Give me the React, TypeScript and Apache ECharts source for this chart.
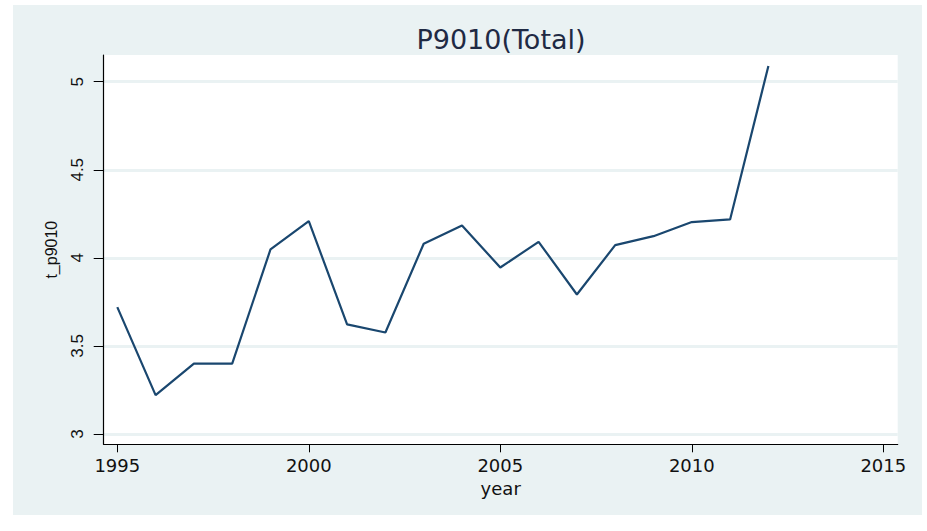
import React, { useEffect, useRef } from "react";
import * as echarts from "echarts";

const years = [1995, 1996, 1997, 1998, 1999, 2000, 2001, 2002, 2003, 2004, 2005, 2006, 2007, 2008, 2009, 2010, 2011, 2012];
const p9010 = [3.72, 3.221, 3.40, 3.40, 4.048, 4.209, 3.622, 3.576, 4.080, 4.184, 3.945, 4.091, 3.792, 4.072, 4.123, 4.203, 4.218, 5.089];
const xTicks = [1995, 2000, 2005, 2010, 2015];
const yTicks = [3, 3.5, 4, 4.5, 5];

export default function App() {
  const ref = useRef<HTMLDivElement>(null);
  useEffect(() => {
    if (!ref.current) return;
    const chart = echarts.init(ref.current, undefined, { renderer: "svg" });
    const data = years.map((y, i) => [y, p9010[i]]);
    chart.setOption({
      animation: false,
      backgroundColor: "transparent",
      title: {
        text: "P9010(Total)",
        left: 501,
        top: 26,
        padding: 0,
        textAlign: "center",
        textStyle: { fontFamily: "DejaVu Sans", fontSize: 27, fontWeight: "normal", color: "#1f2a44" },
      },
      grid: {
        left: 103.7,
        top: 55,
        right: 29.3,
        bottom: 86.7,
        show: true,
        backgroundColor: "#ffffff",
        borderWidth: 0,
        containLabel: false,
        outerBoundsMode: "none",
      },
      xAxis: {
        type: "value",
        min: 1994.645,
        max: 2015.376,
        name: "year",
        nameLocation: "middle",
        nameGap: 28.5,
        nameTextStyle: { fontFamily: "DejaVu Sans", fontSize: 18, color: "#111" },
        axisLine: { show: true, onZero: false, lineStyle: { color: "#000", width: 1.2 } },
        axisTick: { show: true, length: 8, customValues: xTicks, lineStyle: { color: "#000", width: 1 } },
        axisLabel: {
          customValues: xTicks,
          margin: 12,
          fontFamily: "DejaVu Sans",
          fontSize: 18,
          color: "#111",
          formatter: (v: number) => String(v),
        },
        splitLine: { show: false },
      },
      yAxis: {
        type: "value",
        min: 2.9415,
        max: 5.1515,
        name: "t_p9010",
        nameLocation: "middle",
        nameGap: 44,
        nameTextStyle: { fontFamily: "Liberation Sans", fontSize: 16, color: "#111" },
        axisLine: { show: true, onZero: false, lineStyle: { color: "#000", width: 1.2 } },
        axisTick: { show: true, length: 10, customValues: yTicks, lineStyle: { color: "#000", width: 1 } },
        axisLabel: {
          customValues: yTicks,
          rotate: 90,
          margin: 18,
          fontFamily: "Liberation Sans",
          fontSize: 17,
          color: "#111",
          formatter: (v: number) => String(v),
        },
        splitLine: { show: true, lineStyle: { color: "#eaf2f3", width: 3 } },
      },
      series: [
        {
          type: "line",
          data,
          showSymbol: false,
          symbol: "none",
          lineStyle: { color: "#1a476f", width: 2.2 },
          itemStyle: { color: "#1a476f" },
        },
      ],
    });
    return () => chart.dispose();
  }, []);
  return (
    <div style={{ position: "fixed", left: 0, top: 0, width: 927, height: 531, background: "#ffffff" }}>
      <div style={{ position: "absolute", left: 13, top: 5, width: 909, height: 510, background: "#eaf2f3" }} />
      <div ref={ref} style={{ position: "absolute", left: 0, top: 0, width: 927, height: 531 }} />
    </div>
  );
}
